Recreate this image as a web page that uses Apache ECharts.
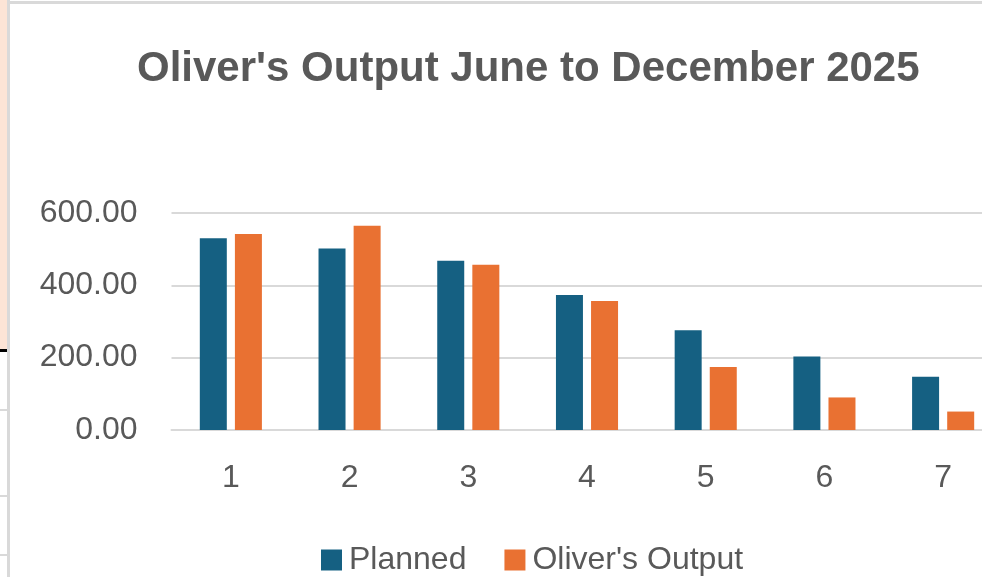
<!DOCTYPE html>
<html>

<head>
    <meta charset="utf-8" />
    <title>Oliver's Output</title>
    <script src="https://cdn.jsdelivr.net/npm/echarts@6/dist/echarts.min.js"></script>
</head>

<body style="margin: 0; overflow: hidden">
    <!-- the chart is cut off on the right in the reference, so the div is wider than the window -->
    <div id="main" style="width: 1004px; height: 577px"></div>
    <script type="text/javascript">
        var months = ["1", "2", "3", "4", "5", "6", "7"];
        var planned = [530, 502, 468, 373, 276, 203, 147];
        var output = [542, 565, 457, 357, 174, 90, 51];
        var yTicks = [0, 200, 400, 600];

        var grey = "#595959";
        var lineGrey = "#d9d9d9";

        var myChart = echarts.init(document.getElementById("main"));

        var option = {
            backgroundColor: "#ffffff",
            animation: false,
            title: {
                text: "Oliver's Output June to December 2025",
                left: 132,
                top: 43,
                textStyle: {
                    fontFamily: "Liberation Sans",
                    fontSize: 42,
                    fontWeight: "bold",
                    color: grey,
                },
            },
            legend: {
                left: 316,
                top: 539,
                itemWidth: 21,
                itemHeight: 21,
                itemGap: 38,
                icon: "rect",
                textStyle: {
                    fontFamily: "Liberation Sans",
                    fontSize: 32,
                    color: grey,
                    padding: [0, 0, 0, 2],
                },
                data: ["Planned", "Oliver's Output"],
            },
            grid: {
                left: 171.5,
                top: 213,
                width: 831,
                height: 217,
                containLabel: false,
            },
            xAxis: {
                type: "category",
                data: months,
                axisLine: { lineStyle: { color: lineGrey, width: 2 } },
                axisTick: { show: false },
                axisLabel: {
                    fontFamily: "Liberation Sans",
                    fontSize: 32,
                    color: grey,
                    margin: 32,
                },
            },
            yAxis: {
                type: "value",
                min: yTicks[0],
                max: yTicks[yTicks.length - 1],
                interval: 200,
                axisLine: { show: false },
                axisTick: { show: false },
                splitLine: { lineStyle: { color: lineGrey, width: 2 } },
                axisLabel: {
                    fontFamily: "Liberation Sans",
                    fontSize: 32,
                    color: grey,
                    margin: 34,
                    formatter: function (v) {
                        return v.toFixed(2);
                    },
                },
            },
            series: [
                {
                    name: "Planned",
                    type: "bar",
                    data: planned,
                    barWidth: 27,
                    barGap: "30%",
                    itemStyle: { color: "#156082" },
                },
                {
                    name: "Oliver's Output",
                    type: "bar",
                    data: output,
                    barWidth: 27,
                    itemStyle: { color: "#E97132" },
                },
            ],
            graphic: [
                // spreadsheet bits visible around the chart
                { type: "rect", shape: { x: 0, y: 0, width: 7, height: 350 }, style: { fill: "#FCE4D6" }, silent: true },
                { type: "rect", shape: { x: 0, y: 349, width: 7, height: 3 }, style: { fill: "#000000" }, silent: true },
                { type: "rect", shape: { x: 0, y: 409, width: 7, height: 2 }, style: { fill: lineGrey }, silent: true },
                { type: "rect", shape: { x: 0, y: 495, width: 7, height: 2 }, style: { fill: lineGrey }, silent: true },
                { type: "rect", shape: { x: 0, y: 554, width: 7, height: 2 }, style: { fill: lineGrey }, silent: true },
                { type: "rect", shape: { x: 7, y: 0, width: 3, height: 577 }, style: { fill: lineGrey }, silent: true },
                { type: "rect", shape: { x: 10, y: 1, width: 994, height: 3 }, style: { fill: lineGrey }, silent: true },
            ],
        };
        myChart.setOption(option);
    </script>
</body>

</html>
